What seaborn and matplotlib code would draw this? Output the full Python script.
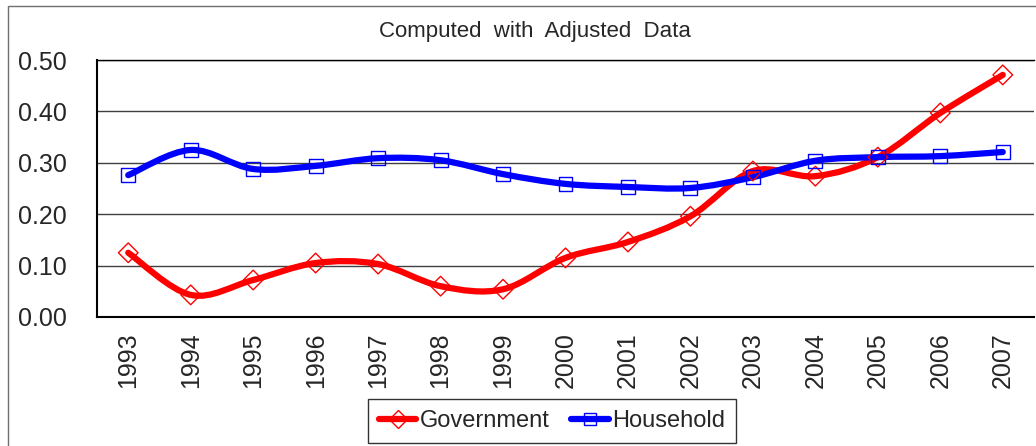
import numpy as np
import pandas as pd
import matplotlib
matplotlib.use('Agg')
import matplotlib.pyplot as plt
from matplotlib.path import Path
from matplotlib.patches import PathPatch, Rectangle
from matplotlib.lines import Line2D
import seaborn as sns

# Values
years = ['1993', '1994', '1995', '1996', '1997', '1998', '1999', '2000',
         '2001', '2002', '2003', '2004', '2005', '2006', '2007']
government = [0.125, 0.043, 0.072, 0.105, 0.103, 0.060, 0.054, 0.115,
              0.146, 0.196, 0.284, 0.274, 0.311, 0.397, 0.471]
household = [0.276, 0.325, 0.288, 0.294, 0.309, 0.305, 0.278, 0.259,
             0.253, 0.251, 0.272, 0.304, 0.311, 0.313, 0.321]

sns.set_style('white')
plt.rcParams['font.family'] = ['Liberation Sans', 'DejaVu Sans']


def smooth_path(xs, ys):
    """Excel-like smoothed line: cubic Bezier through every point."""
    pts = np.column_stack([xs, ys]).astype(float)
    verts = [pts[0]]
    codes = [Path.MOVETO]
    n = len(pts)
    for i in range(n - 1):
        p0 = pts[i - 1] if i > 0 else pts[i]
        p1, p2 = pts[i], pts[i + 1]
        p3 = pts[i + 2] if i + 2 < n else pts[i + 1]
        verts += [p1 + (p2 - p0) / 6, p2 - (p3 - p1) / 6, p2]
        codes += [Path.CURVE4] * 3
    return Path(verts, codes)


df = pd.DataFrame({'x': np.arange(len(years)), 'Government': government,
                   'Household': household})

fig = plt.figure(figsize=(10.36, 4.46), dpi=100)
ax = fig.add_axes([97 / 1036, 1 - 317 / 446, 937 / 1036, 257 / 446])

series = [('Government', '#ff0000', 'D', 10), ('Household', '#0000ff', 's', 10)]
for name, color, marker, ms in series:
    ax.add_patch(PathPatch(smooth_path(df['x'], df[name]), fill=False,
                           edgecolor=color, lw=4.5, capstyle='round',
                           joinstyle='round', zorder=3))
    sns.scatterplot(data=df, x='x', y=name, ax=ax, marker=marker, s=ms ** 2,
                    facecolor='none', edgecolor=color, linewidth=1.0, zorder=4)

ax.set_xlim(-0.5, len(years) - 0.5)
ax.set_ylim(0, 0.5)
ax.set_yticks(np.arange(0, 0.51, 0.1))
ax.set_yticklabels([f'{v:.2f}' for v in np.arange(0, 0.51, 0.1)], fontsize=18)
ax.set_xticks(np.arange(len(years)))
ax.set_xticklabels(years, rotation=90, fontsize=18)
ax.set_xticks(np.arange(len(years) - 1) + 0.5, minor=True)
ax.tick_params(axis='x', which='major', length=0, pad=11)
ax.tick_params(axis='x', which='minor', direction='in', length=6, width=1, color='black')
ax.tick_params(axis='y', length=0, pad=22)
ax.set_xlabel('')
ax.set_ylabel('')
ax.yaxis.grid(True, color='#404040', lw=1)
ax.set_axisbelow(True)
for side in ['left', 'bottom']:
    ax.spines[side].set_color('black')
    ax.spines[side].set_linewidth(1.5)
ax.spines['top'].set_color('black')
ax.spines['top'].set_linewidth(1)
ax.spines['right'].set_visible(False)

fig.text(535 / 1036, 1 - 32 / 446, 'Computed  with  Adjusted  Data',
         ha='center', va='center', fontsize=16)

# outer chart frame
fig.patches.append(Rectangle((8 / 1036, -0.01), 1.1, 1 - 6 / 446 + 0.01,
                             transform=fig.transFigure, fill=False,
                             edgecolor='#707070', lw=1))

handles = [Line2D([], [], color=c, lw=4.5, marker=m, markersize=ms - 1,
                  markerfacecolor='none', markeredgecolor=c, markeredgewidth=1)
           for _, c, m, ms in series]
fig.legend(handles, [s[0] for s in series], loc='center',
           bbox_to_anchor=(552 / 1036, 1 - 421 / 446), ncol=2, fontsize=17,
           frameon=True, fancybox=False, edgecolor='black', handlelength=1.6,
           handletextpad=0.15, columnspacing=0.9, borderpad=0.45,
           borderaxespad=0.0)

fig.savefig('out.png', dpi=100)
